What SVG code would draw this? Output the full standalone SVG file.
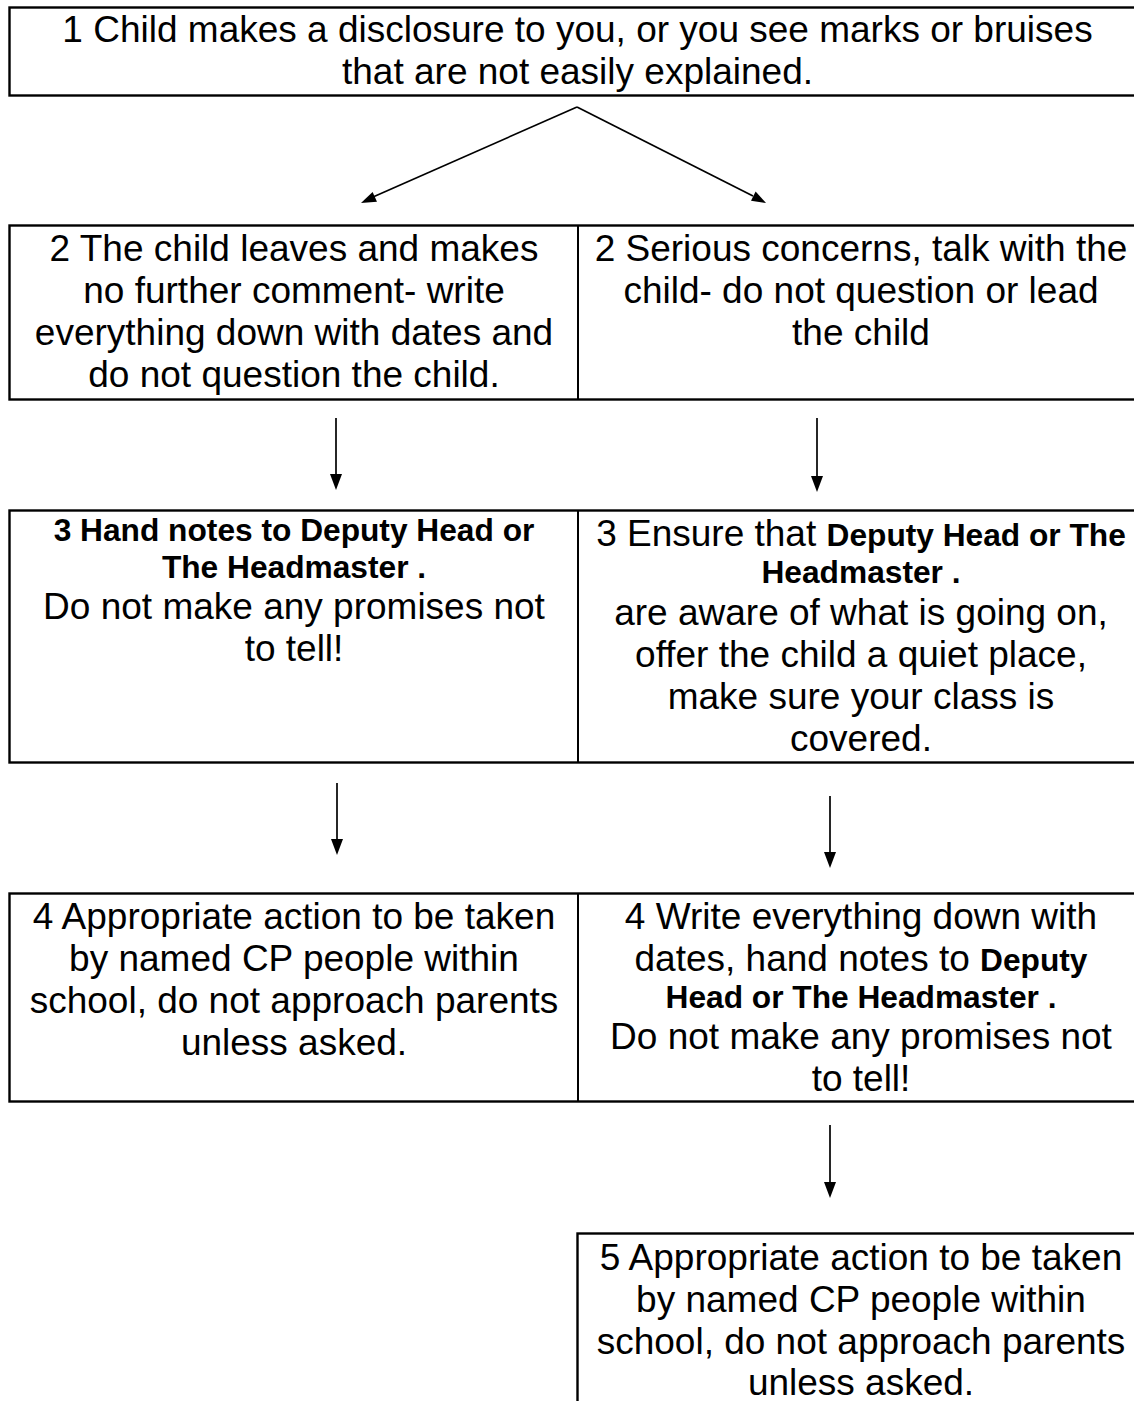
<svg xmlns="http://www.w3.org/2000/svg" width="1134" height="1401" viewBox="0 0 1134 1401">
<style>
.box{fill:#fff;stroke:#000;stroke-width:2.4}
.div{stroke:#000;stroke-width:2}
.t{font-family:"Liberation Sans",Arial,sans-serif;font-size:37px;fill:#000;text-anchor:middle}
.b{font-weight:bold;font-size:31.7px}
.con line{stroke:#000;stroke-width:1.7}
.con path{fill:#000;stroke:none}
</style>
<rect width="1134" height="1401" fill="#fff"/>

<g id="n1">
<rect class="box" x="9.5" y="7.5" width="1140" height="88"/>
<text class="t" x="577.5" y="42">1 Child makes a disclosure to you, or you see marks or bruises</text>
<text class="t" x="577.5" y="84">that are not easily explained.</text>
</g>

<g id="row2">
<rect class="box" x="9.5" y="225.5" width="1140" height="174"/>
<line class="div" x1="578" y1="225.5" x2="578" y2="399.5"/>
</g>
<g id="n2a">
<text class="t" x="294" y="261">2 The child leaves and makes</text>
<text class="t" x="294" y="303">no further comment- write</text>
<text class="t" x="294" y="345">everything down with dates and</text>
<text class="t" x="294" y="387">do not question the child.</text>
</g>
<g id="n2b">
<text class="t" x="861" y="261">2 Serious concerns, talk with the</text>
<text class="t" x="861" y="303">child- do not question or lead</text>
<text class="t" x="861" y="345">the child</text>
</g>

<g id="row3">
<rect class="box" x="9.5" y="510.5" width="1140" height="252"/>
<line class="div" x1="578" y1="510.5" x2="578" y2="762.5"/>
</g>
<g id="n3a">
<text class="t b" x="294" y="541">3 Hand notes to Deputy Head or</text>
<text class="t b" x="294" y="578">The Headmaster .</text>
<text class="t" x="294" y="619">Do not make any promises not</text>
<text class="t" x="294" y="661">to tell!</text>
</g>
<g id="n3b">
<text class="t" x="861" y="546">3 Ensure that <tspan class="b">Deputy Head or The</tspan></text>
<text class="t b" x="861" y="583">Headmaster .</text>
<text class="t" x="861" y="625">are aware of what is going on,</text>
<text class="t" x="861" y="667">offer the child a quiet place,</text>
<text class="t" x="861" y="709">make sure your class is</text>
<text class="t" x="861" y="751">covered.</text>
</g>

<g id="row4">
<rect class="box" x="9.5" y="893.5" width="1140" height="208"/>
<line class="div" x1="578" y1="893.5" x2="578" y2="1101.5"/>
</g>
<g id="n4a">
<text class="t" x="294" y="929">4 Appropriate action to be taken</text>
<text class="t" x="294" y="971">by named CP people within</text>
<text class="t" x="294" y="1013">school, do not approach parents</text>
<text class="t" x="294" y="1055">unless asked.</text>
</g>
<g id="n4b">
<text class="t" x="861" y="929">4 Write everything down with</text>
<text class="t" x="861" y="971">dates, hand notes to <tspan class="b">Deputy</tspan></text>
<text class="t b" x="861" y="1008">Head or The Headmaster .</text>
<text class="t" x="861" y="1049"> Do not make any promises not</text>
<text class="t" x="861" y="1091">to tell!</text>
</g>

<g id="n5">
<rect class="box" x="577.5" y="1233.5" width="580" height="200"/>
<text class="t" x="861" y="1270">5 Appropriate action to be taken</text>
<text class="t" x="861" y="1312">by named CP people within</text>
<text class="t" x="861" y="1354">school, do not approach parents</text>
<text class="t" x="861" y="1395">unless asked.</text>
</g>

<g id="connectors" class="con">
<line x1="577" y1="107" x2="373" y2="197"/>
<path d="M361,203 L377,201.8 L372.6,192 Z"/>
<line x1="577" y1="107" x2="753" y2="196"/>
<path d="M766,203 L751,200.8 L755.6,191.6 Z"/>
<line x1="336" y1="418" x2="336" y2="476"/>
<path d="M330,474 L342,474 L336,490 Z"/>
<line x1="817" y1="418" x2="817" y2="478"/>
<path d="M811,476 L823,476 L817,492 Z"/>
<line x1="337" y1="783" x2="337" y2="841"/>
<path d="M331,839 L343,839 L337,855 Z"/>
<line x1="830" y1="796" x2="830" y2="854"/>
<path d="M824,852 L836,852 L830,868 Z"/>
<line x1="830" y1="1125" x2="830" y2="1184"/>
<path d="M824,1182 L836,1182 L830,1198 Z"/>
</g>
</svg>
